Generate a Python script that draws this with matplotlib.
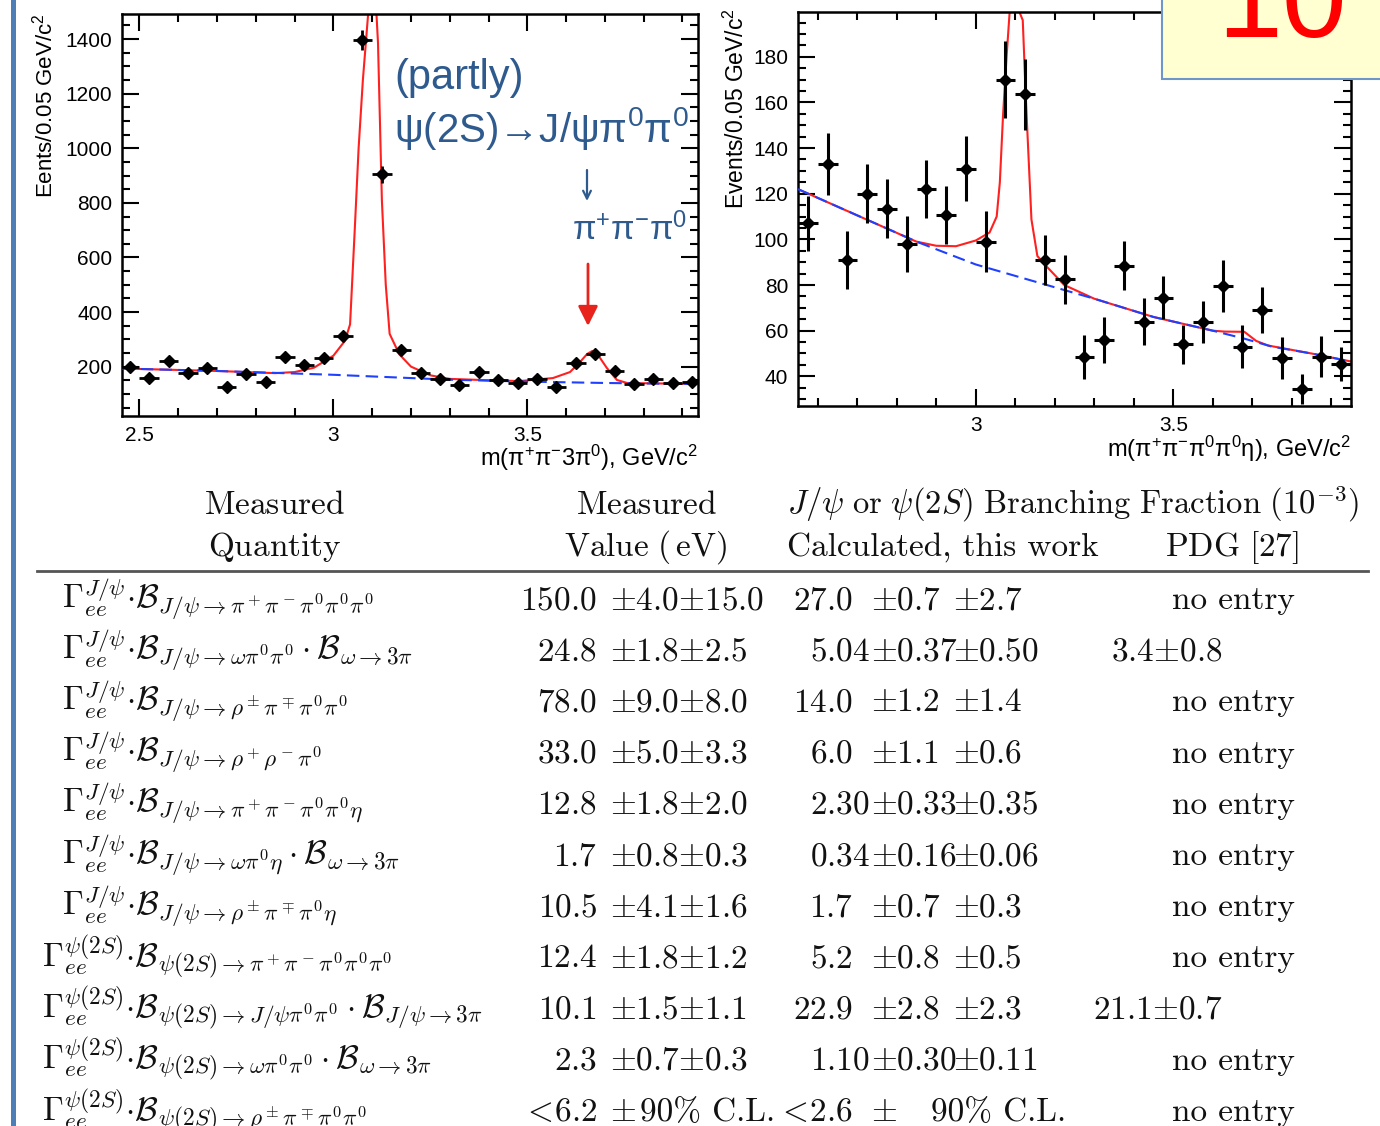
import numpy as np
import matplotlib.pyplot as plt
from matplotlib.ticker import MultipleLocator, FuncFormatter
from matplotlib.patches import Rectangle

plt.rcParams['font.family'] = ['Liberation Sans', 'DejaVu Sans']
plt.rcParams['mathtext.fontset'] = 'custom'
plt.rcParams['mathtext.rm'] = 'Liberation Sans'
plt.rcParams['mathtext.it'] = 'Liberation Sans:italic'
plt.rcParams['mathtext.bf'] = 'Liberation Sans:bold'

# --- left panel: m(pi+ pi- 3pi0), 0.05 GeV bins starting at 2.45
x_5pi = 2.475 + 0.05 * np.arange(30)
n_5pi = [198, 160, 221, 178, 196, 127, 173, 145, 234, 206,
         233, 313, 1398, 904, 261, 176, 155, 133, 179, 151,
         141, 156, 127, 215, 245, 185, 136, 153, 141, 145]
err_5pi = [14, 13, 15, 13, 14, 11, 13, 12, 15, 14,
           15, 18, 37, 30, 16, 13, 12, 12, 13, 12,
           12, 12, 11, 15, 16, 14, 12, 12, 12, 12]
fit_5pi_x = [2.455, 2.7, 2.85, 2.9, 2.95, 3.0, 3.03, 3.043, 3.055, 3.065,
             3.076, 3.09, 3.1, 3.11, 3.115, 3.125, 3.135, 3.145, 3.17, 3.2,
             3.25, 3.3, 3.4, 3.48, 3.566, 3.61, 3.636, 3.654, 3.667, 3.682,
             3.705, 3.731, 3.757, 3.85, 3.94]
fit_5pi_y = [193, 184, 176, 180, 196, 240, 295, 355, 700, 1000,
             1250, 1500, 1560, 1520, 1386, 810, 500, 320, 245, 200,
             168, 155, 150, 147, 158, 180, 217, 246, 257, 243,
             195, 151, 140, 138, 136]
bkg_5pi_x = [2.455, 2.7, 3.0, 3.3, 3.5, 3.7, 3.94]
bkg_5pi_y = [193, 184, 170, 152, 145, 140, 136]

# --- right panel: m(pi+ pi- pi0 pi0 eta)
x_eta = 2.575 + 0.05 * np.arange(28)
n_eta = [107, 133, 91, 120, 113.5, 98, 122, 110.5, 131, 99,
         170, 163.5, 91, 82.5, 48.5, 56, 88.5, 64, 74.5, 54,
         64, 79.5, 53, 69, 48, 34.5, 48.5, 45.5]
err_eta = [12, 13.6, 12.6, 12.8, 12.9, 12.4, 12.8, 12.7, 14.4, 13.4,
           16.8, 15.4, 10.9, 10.6, 9.5, 10, 10.7, 10.2, 9.5, 8.7,
           9.2, 11.4, 9.5, 10.2, 9.1, 6.6, 9, 7.5]
fit_eta_x = [2.55, 2.7, 2.85, 2.9, 2.95, 3.0, 3.035, 3.053, 3.061, 3.069,
             3.078, 3.086, 3.092, 3.105, 3.119, 3.127, 3.141, 3.156, 3.18, 3.224,
             3.3, 3.45, 3.6, 3.63, 3.68, 3.71, 3.74, 3.85, 3.95]
fit_eta_y = [122, 110.5, 99, 97.2, 97, 99.5, 103, 110, 125, 154,
             180, 200, 205, 202, 196, 161, 108.7, 92.7, 88, 80,
             74, 66, 60, 59.6, 59.5, 55.5, 53.5, 50, 46.5]
bkg_eta_x = [2.55, 2.7, 2.85, 3.0, 3.15, 3.3, 3.45, 3.6, 3.68, 3.75, 3.85, 3.95]
bkg_eta_y = [122, 110.5, 99, 89, 81.5, 74, 66, 60, 56.5, 53, 50, 46.5]

# --- table
quantities = [
    r"$\Gamma_{ee}^{J/\psi}{\cdot}\mathcal{B}_{J/\psi{\to}\pi^+\pi^-\pi^0\pi^0\pi^0}$",
    r"$\Gamma_{ee}^{J/\psi}{\cdot}\mathcal{B}_{J/\psi{\to}\omega\pi^0\pi^0}\cdot\mathcal{B}_{\omega{\to}3\pi}$",
    r"$\Gamma_{ee}^{J/\psi}{\cdot}\mathcal{B}_{J/\psi{\to}\rho^\pm\pi^\mp\pi^0\pi^0}$",
    r"$\Gamma_{ee}^{J/\psi}{\cdot}\mathcal{B}_{J/\psi{\to}\rho^+\rho^-\pi^0}$",
    r"$\Gamma_{ee}^{J/\psi}{\cdot}\mathcal{B}_{J/\psi{\to}\pi^+\pi^-\pi^0\pi^0\eta}$",
    r"$\Gamma_{ee}^{J/\psi}{\cdot}\mathcal{B}_{J/\psi{\to}\omega\pi^0\eta}\cdot\mathcal{B}_{\omega{\to}3\pi}$",
    r"$\Gamma_{ee}^{J/\psi}{\cdot}\mathcal{B}_{J/\psi{\to}\rho^\pm\pi^\mp\pi^0\eta}$",
    r"$\Gamma_{ee}^{\psi(2S)}{\cdot}\mathcal{B}_{\psi(2S){\to}\pi^+\pi^-\pi^0\pi^0\pi^0}$",
    r"$\Gamma_{ee}^{\psi(2S)}{\cdot}\mathcal{B}_{\psi(2S){\to}J/\psi\pi^0\pi^0}\cdot\mathcal{B}_{J/\psi{\to}3\pi}$",
    r"$\Gamma_{ee}^{\psi(2S)}{\cdot}\mathcal{B}_{\psi(2S){\to}\omega\pi^0\pi^0}\cdot\mathcal{B}_{\omega{\to}3\pi}$",
    r"$\Gamma_{ee}^{\psi(2S)}{\cdot}\mathcal{B}_{\psi(2S){\to}\rho^\pm\pi^\mp\pi^0\pi^0}$",
]
meas_val = ["150.0", "24.8", "78.0", "33.0", "12.8", "1.7", "10.5", "12.4", "10.1", "2.3", "<6.2"]
meas_err = ["±4.0±15.0", "±1.8±2.5", "±9.0±8.0", "±5.0±3.3", "±1.8±2.0", "±0.8±0.3",
            "±4.1±1.6", "±1.8±1.2", "±1.5±1.1", "±0.7±0.3", "±"]
bf_val = ["27.0", "5.04", "14.0", "6.0", "2.30", "0.34", "1.7", "5.2", "22.9", "1.10", "<2.6"]
bf_stat = ["±0.7", "±0.37", "±1.2", "±1.1", "±0.33", "±0.16", "±0.7", "±0.8", "±2.8", "±0.30", "±"]
bf_syst = ["±2.7", "±0.50", "±1.4", "±0.6", "±0.35", "±0.06", "±0.3", "±0.5", "±2.3", "±0.11", ""]
upper_limit = "90% C.L."
pdg = ["no entry", "3.4±0.8", "no entry", "no entry", "no entry", "no entry",
       "no entry", "no entry", "21.1±0.7", "no entry", "no entry"]

W, H = 1380, 1126
fig = plt.figure(figsize=(W / 100, H / 100), dpi=100)


def tex(s):
    # plain table entry -> computer modern mathtext
    s = s.replace("±", r"{\pm}").replace("<", r"<\!").replace(" ", r"\ ")
    return "$" + s + "$"


def style(ax):
    ax.tick_params(which='both', direction='in', top=True, right=True,
                   width=1.5, labelsize=15, pad=7)
    ax.tick_params(which='major', length=12)
    ax.tick_params(which='minor', length=6)
    for s in ax.spines.values():
        s.set_linewidth(1.8)
    ax.xaxis.set_major_formatter(FuncFormatter(lambda v, p: f"{v:g}"))


def box(l, t, r, b):
    return [l / W, 1 - b / H, (r - l) / W, (b - t) / H]


# left panel
ax1 = fig.add_axes(box(122, 14, 698, 416))
style(ax1)
ax1.plot(fit_5pi_x, fit_5pi_y, color='#ff2020', lw=1.5, zorder=2)
ax1.plot(bkg_5pi_x, bkg_5pi_y, color='#2040ff', lw=1.5, ls=(0, (6, 3)), zorder=3)
ax1.errorbar(x_5pi, n_5pi, yerr=err_5pi, xerr=0.025, fmt='D', color='k',
             ms=6, elinewidth=2, capsize=0, zorder=4)
ax1.set_xlim(2.455, 3.94)
ax1.set_ylim(19, 1492)
ax1.xaxis.set_major_locator(MultipleLocator(0.5))
ax1.xaxis.set_minor_locator(MultipleLocator(0.1))
ax1.yaxis.set_major_locator(MultipleLocator(200))
ax1.yaxis.set_minor_locator(MultipleLocator(50))
ax1.set_yticks([200, 400, 600, 800, 1000, 1200, 1400])

# right panel
ax2 = fig.add_axes(box(798, 12, 1351, 406))
style(ax2)
ax2.plot(fit_eta_x, fit_eta_y, color='#ff2020', lw=1.5, zorder=2)
ax2.plot(bkg_eta_x, bkg_eta_y, color='#2040ff', lw=1.5, ls=(0, (6, 3)), zorder=3)
ax2.errorbar(x_eta, n_eta, yerr=err_eta, xerr=0.025, fmt='D', color='k',
             ms=6, elinewidth=2.2, capsize=0, zorder=4)
ax2.set_xlim(2.55, 3.95)
ax2.set_ylim(27, 199.6)
ax2.xaxis.set_major_locator(MultipleLocator(0.5))
ax2.xaxis.set_minor_locator(MultipleLocator(0.1))
ax2.yaxis.set_major_locator(MultipleLocator(20))
ax2.yaxis.set_minor_locator(MultipleLocator(5))

# overlay in pixel coordinates for labels, slide decorations and the table
ov = fig.add_axes([0, 0, 1, 1], zorder=10)
ov.set_xlim(0, W)
ov.set_ylim(H, 0)
ov.axis('off')
ov.patch.set_alpha(0)

ov.add_patch(Rectangle((11, 0), 5, H, color='#4f7db5', lw=0))

ov.text(45, 14, "Eents/0.05 GeV/c$^{2}$", rotation=90, ha='center', va='top', fontsize=16)
ov.text(736, 8, "Events/0.05 GeV/c$^{2}$", rotation=90, ha='center', va='top', fontsize=16.5)
ov.text(698, 466, "m(π$^{+}$π$^{-}$3π$^{0}$), GeV/c$^{2}$", ha='right', va='baseline', fontsize=17)
ov.text(1351, 457, "m(π$^{+}$π$^{-}$π$^{0}$π$^{0}$η), GeV/c$^{2}$", ha='right', va='baseline', fontsize=17)

blue_txt = '#2e5a8e'
ov.text(394, 78, "(partly)", color=blue_txt, fontsize=30, ha='left', va='center')
ov.text(394, 128, "ψ(2S)→J/ψπ$^{0}$π$^{0}$", color=blue_txt, fontsize=29, ha='left', va='center')
ov.annotate('', xy=(587, 201), xytext=(587, 170),
            arrowprops=dict(arrowstyle='->', color=blue_txt, lw=1.6, mutation_scale=14,
                            shrinkA=0, shrinkB=0))
ov.text(572, 230, "π$^{+}$π$^{-}$π$^{0}$", color=blue_txt, fontsize=24.5, ha='left', va='center')
ov.annotate('', xy=(588, 326), xytext=(588, 264),
            arrowprops=dict(arrowstyle='-|>', color='#e8231c', lw=2, mutation_scale=30,
                            shrinkA=0, shrinkB=0))

# slide number box
ov.add_patch(Rectangle((1162, -10), 240, 89, facecolor='#ffffd2', edgecolor='#6f96c8', lw=1.5))
ov.text(1347, 37, "10", color='#ff0000', fontsize=84, ha='right', va='baseline')

# table
fs = 24
tkw = dict(fontsize=fs, math_fontfamily='cm', color='#111111', va='baseline')
ckw = dict(fontsize=fs, family='cmr10', color='#111111', va='baseline')
ov.text(275, 514, r"$\mathrm{Measured}$", ha='center', **tkw)
ov.text(275, 556, r"$\mathrm{Quantity}$", ha='center', **tkw)
ov.text(647, 514, r"$\mathrm{Measured}$", ha='center', **tkw)
ov.text(646, 556, r"$\mathrm{Value}\ (\,\mathrm{eV})$", ha='center', **tkw)
ov.text(787, 514, r"$J/\psi\ \mathrm{or}\ \psi(2S)\ \mathrm{Branching\ Fraction}\ (10^{-3})$",
        ha='left', fontsize=23.5, math_fontfamily='cm', color='#111111', va='baseline')
ov.text(787, 556, "Calculated, this work", ha='left', **ckw)
ov.text(1165, 556, r"$\mathrm{PDG}\ [27]$", ha='left', **tkw)
ov.plot([37, 1368], [571, 571], color='#555555', lw=2)

for i in range(len(quantities)):
    yb = 609 + 51.2 * i
    x0 = 62 if i < 7 else 42
    ov.text(x0, yb, quantities[i], ha='left', **tkw)
    ov.text(597, yb, tex(meas_val[i]), ha='right', **tkw)
    ov.text(610, yb, tex(meas_err[i]), ha='left', **tkw)
    xe = 870 if len(bf_val[i].split(".")[1]) == 2 else 853
    ov.text(xe, yb, tex(bf_val[i]), ha='right', **tkw)
    ov.text(871, yb, tex(bf_stat[i]), ha='left', **tkw)
    if bf_syst[i]:
        ov.text(953, yb, tex(bf_syst[i]), ha='left', **tkw)
    else:
        ov.text(640, yb, upper_limit, ha='left', **ckw)
        ov.text(931, yb, upper_limit, ha='left', **ckw)
    if pdg[i] == "no entry":
        ov.text(1172, yb, "no entry", ha='left', **ckw)
    else:
        ov.text(1222, yb, tex(pdg[i]), ha='right', **tkw)

fig.savefig('out.png', dpi=100)
